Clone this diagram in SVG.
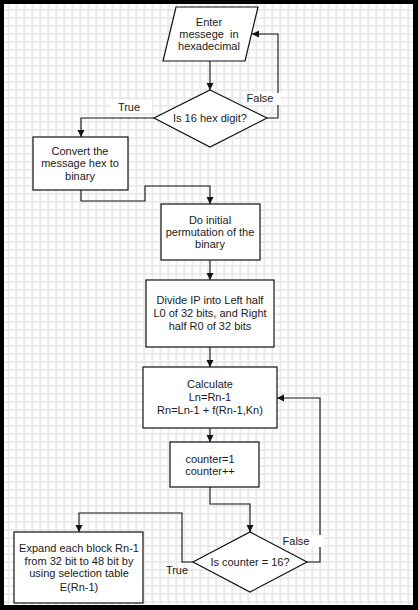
<svg xmlns="http://www.w3.org/2000/svg" width="418" height="610" viewBox="0 0 418 610">
<style>
.shape{fill:#fff;stroke:#111;stroke-width:1.2}
.conn{fill:none;stroke:#111;stroke-width:1.1}
.t{font-family:"Liberation Sans",Arial,sans-serif;font-size:11px;fill:#1a1a1a;text-anchor:middle}
.bg{fill:#fff}
</style>
<defs>
<pattern id="grid" x="4.5" y="6" width="8" height="8" patternUnits="userSpaceOnUse">
<path d="M4 0V8M0 4H8" stroke="#e6e6e6" stroke-width="1.6" fill="none"/>
</pattern>
<marker id="arr" markerUnits="userSpaceOnUse" markerWidth="8" markerHeight="8" refX="7" refY="3.5" orient="auto">
<path d="M0,0L7,3.5L0,7z" fill="#111"/>
</marker>
</defs>
<rect x="0" y="0" width="418" height="610" fill="#000"/>
<rect x="4" y="4" width="409" height="601" fill="#fff"/>
<rect x="4" y="4" width="409" height="601" fill="url(#grid)"/>

<g id="connectors">
<path class="conn" d="M210,61V90" marker-end="url(#arr)"/>
<path class="conn" d="M267,118H278V34H252" marker-end="url(#arr)"/>
<path class="conn" d="M154,118H81V137" marker-end="url(#arr)"/>
<path class="conn" d="M81,190V201H145V186H210V204" marker-end="url(#arr)"/>
<path class="conn" d="M210,260V280" marker-end="url(#arr)"/>
<path class="conn" d="M210,347V367" marker-end="url(#arr)"/>
<path class="conn" d="M210,428V442" marker-end="url(#arr)"/>
<path class="conn" d="M210,487V504H250V532" marker-end="url(#arr)"/>
<path class="conn" d="M307,562H320V398H277" marker-end="url(#arr)"/>
<path class="conn" d="M193,562H182V513H79V532" marker-end="url(#arr)"/>
<rect class="bg" x="110" y="100" width="42" height="13"/>
<text class="t" x="129" y="111">True</text>
<rect class="bg" x="244" y="93" width="37" height="12"/>
<text class="t" x="260" y="102">False</text>
<rect class="bg" x="282" y="535" width="41" height="12"/>
<text class="t" x="296" y="545">False</text>
<text class="t" x="177" y="574">True</text>
</g>

<g id="input">
<polygon class="shape" points="176,7 258,7 245,61 163,61"/>
<text class="t" x="209" y="26">Enter</text>
<text class="t" x="209" y="38" xml:space="preserve">messege  in</text>
<text class="t" x="209" y="50">hexadecimal</text>
</g>

<g id="check-hex">
<polygon class="shape" points="210,90 267,118 210,147 154,118"/>
<text class="t" x="210" y="122">Is 16 hex digit?</text>
</g>

<g id="convert">
<rect class="shape" x="33" y="137" width="95" height="53"/>
<text class="t" x="80" y="155">Convert the</text>
<text class="t" x="80" y="167">message hex to</text>
<text class="t" x="80" y="180">binary</text>
</g>

<g id="initial-perm">
<rect class="shape" x="161" y="204" width="99" height="56"/>
<text class="t" x="210" y="224">Do initial</text>
<text class="t" x="210" y="236">permutation of the</text>
<text class="t" x="210" y="248">binary</text>
</g>

<g id="divide">
<rect class="shape" x="146" y="280" width="128" height="67"/>
<text class="t" x="210" y="304">Divide IP into Left half</text>
<text class="t" x="210" y="317">L0 of 32 bits, and Right</text>
<text class="t" x="210" y="330">half R0 of 32 bits</text>
</g>

<g id="calculate">
<rect class="shape" x="143" y="367" width="134" height="61"/>
<text class="t" x="210" y="388">Calculate</text>
<text class="t" x="210" y="401">Ln=Rn-1</text>
<text class="t" x="210" y="414">Rn=Ln-1 + f(Rn-1,Kn)</text>
</g>

<g id="counter">
<rect class="shape" x="170" y="442" width="89" height="45"/>
<text class="t" x="210" y="463">counter=1</text>
<text class="t" x="210" y="475">counter++</text>
</g>

<g id="check-counter">
<polygon class="shape" points="250,532 307,562 250,592 193,562"/>
<text class="t" x="250" y="566">Is counter = 16?</text>
</g>

<g id="expand">
<rect class="shape" x="14" y="532" width="129" height="71"/>
<text class="t" x="79" y="552">Expand each block Rn-1</text>
<text class="t" x="79" y="565">from 32 bit to 48 bit by</text>
<text class="t" x="79" y="577">using selection table</text>
<text class="t" x="79" y="591">E(Rn-1)</text>
</g>
</svg>
